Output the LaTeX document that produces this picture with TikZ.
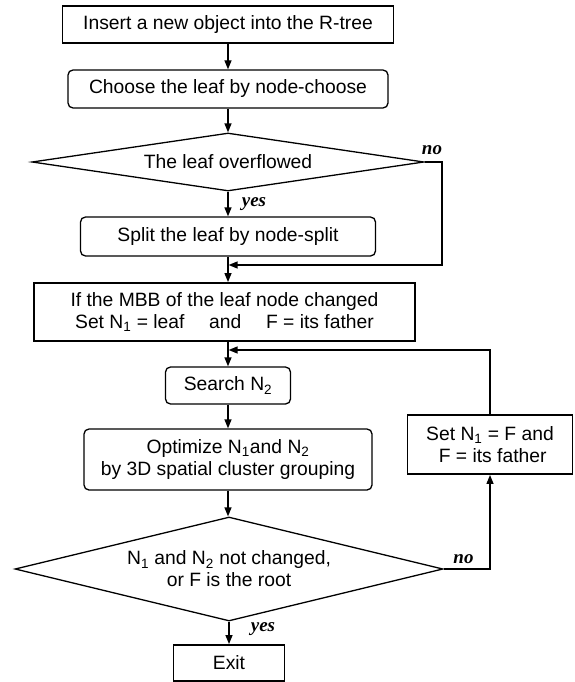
\documentclass[tikz,border=0pt]{standalone}
\usepackage{fontspec}
\setmainfont{Liberation Sans}
\newfontfamily\answerfont{Liberation Serif}
\usetikzlibrary{arrows.meta,shapes.geometric}

\begin{document}
\begin{tikzpicture}[x=1pt,y=-1pt,>={Triangle[length=9pt,width=7pt]},
  font=\fontsize{19.3}{22}\selectfont,
  procbox/.style={draw,line width=1.9pt,align=center,inner sep=0pt},
  roundbox/.style={draw,line width=1.3pt,rounded corners=5pt,align=center,inner sep=0pt},
  decision/.style={draw,diamond,line width=1.3pt,align=center,inner sep=0pt},
  flowline/.style={line width=1.3pt},
  answer/.style={font=\answerfont\bfseries\itshape\fontsize{19}{21}\selectfont}]
  \useasboundingbox (0,0) rectangle (574,682);
  \node[procbox,minimum width=331pt,minimum height=37pt] (insert) at (228,24.5) {Insert a new object into the R-tree};
  \node[roundbox,minimum width=320pt,minimum height=38pt] (choose) at (228,89) {Choose the leaf by node-choose};
  \node[decision,shape aspect=6.7,minimum width=392pt,minimum height=58pt] (overflow) at (228,162) {The leaf overflowed};
  \node[roundbox,minimum width=295pt,minimum height=39pt] (split) at (228,236.5) {Split the leaf by node-split};
  \node[procbox,minimum width=381pt,minimum height=58pt] (mbb) at (224.5,312)
    {If the MBB of the leaf node changed\\Set N\textsubscript{1} = leaf \quad and \quad F = its father};
  \node[roundbox,minimum width=125pt,minimum height=37pt] (search) at (228,385.5) {Search N\textsubscript{2}};
  \node[roundbox,minimum width=288pt,minimum height=61pt] (optimize) at (228,459.5)
    {Optimize N\textsubscript{1}and N\textsubscript{2}\\by 3D spatial cluster grouping};
  \node[decision,shape aspect=4.1,minimum width=428pt,minimum height=104pt] (root) at (229,569)
    {N\textsubscript{1} and N\textsubscript{2} not changed,\\or F is the root};
  \node[procbox,minimum width=111pt,minimum height=36pt] (exit) at (229,663) {Exit};
  \node[procbox,minimum width=165pt,minimum height=59pt] (father) at (490,444.5)
    {Set N\textsubscript{1} = F and\\ \ F = its father};
  % joins and corners
  \coordinate (nocorner) at (442,265);
  \coordinate (join1) at (228.6,265);
  \coordinate (join2) at (228.6,350);
  % connectors
  \draw[flowline,->] (insert) -- (choose);
  \draw[flowline,->] (choose) -- (overflow);
  \draw[flowline,->] (overflow) -- (split);
  \draw[flowline,->] (split.south) -- (split.south |- mbb.north);
  \draw[flowline,->] (overflow.east) -| (nocorner) -- (join1);
  \draw[flowline,->] (search.north |- mbb.south) -- (search.north);
  \draw[flowline,->] (search) -- (optimize);
  \draw[flowline,->] (optimize.south) -- (optimize.south |- root.north);
  \draw[flowline,->] (root.south) -- (root.south |- exit.north);
  \draw[flowline,->] (root.east) -| (father.south);
  \draw[flowline,->] (father.north) |- (join2);
  % labels
  \node[answer] (no1) at (432,150) {no};
  \node[answer] (yes1) at (254,204) {yes};
  \node[answer] (no2) at (463.5,559) {no};
  \node[answer] (yes2) at (263,629) {yes};
\end{tikzpicture}
\end{document}
